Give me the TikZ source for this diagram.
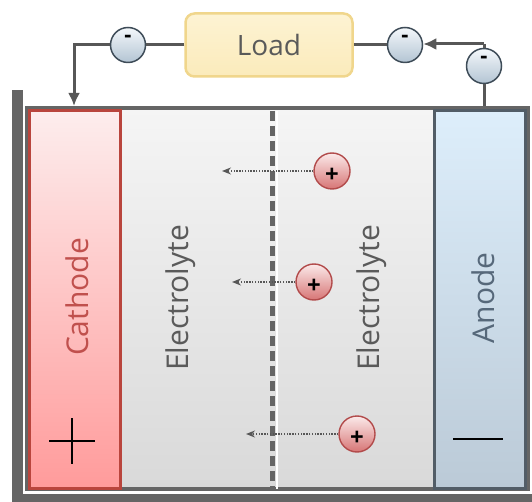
\documentclass[tikz,border=0pt]{standalone}
\usepackage{fontspec}
\setmainfont{Open Sans}
\usetikzlibrary{arrows.meta}
\definecolor{framegray}{HTML}{656565}
\definecolor{wiregray}{HTML}{575757}
\definecolor{cathborder}{HTML}{B9453D}
\definecolor{cathtop}{HTML}{FDEDED}
\definecolor{cathbot}{HTML}{FF9B9B}
\definecolor{cathtxt}{HTML}{C0504D}
\definecolor{eltop}{HTML}{F5F5F5}
\definecolor{elbot}{HTML}{D9D9D9}
\definecolor{eltxt}{HTML}{5A5A5A}
\definecolor{antop}{HTML}{DDEEFB}
\definecolor{anbot}{HTML}{BBCAD7}
\definecolor{anborder}{HTML}{525D67}
\definecolor{antxt}{HTML}{56687A}
\definecolor{loadfill}{HTML}{FDF3D3}
\definecolor{loadbot}{HTML}{FBEBBB}
\definecolor{loadborder}{HTML}{F0D68C}
\definecolor{loadtxt}{HTML}{5A5A5A}
\definecolor{etop}{HTML}{F4F8FB}
\definecolor{ebot}{HTML}{B3C4D3}
\definecolor{eborder}{HTML}{3E4C58}
\definecolor{itop}{HTML}{FBEAEA}
\definecolor{ibot}{HTML}{D77575}
\definecolor{iborder}{HTML}{B24B4B}
\tikzset{
  wire/.style={draw=wiregray, line width=3pt},
  electron/.style={circle, draw=eborder, line width=1.5pt, top color=etop, bottom color=ebot, minimum size=35pt, inner sep=0pt},
  ion/.style={circle, draw=iborder, line width=1.4pt, top color=itop, bottom color=ibot, minimum size=36pt, inner sep=0pt},
  esign/.style={font=\bfseries\fontsize{22}{22}\selectfont, inner sep=0pt, text=black},
  isign/.style={font=\bfseries\fontsize{24}{24}\selectfont, inner sep=0pt, text=black},
  iarrow/.style={draw=wiregray, line width=1.6pt, dash pattern=on 1.4pt off 1.4pt, -{Stealth[length=9pt,width=7pt]}},
  vtext/.style={rotate=90, font=\fontsize{30}{34}\selectfont, inner sep=0pt},
}
\begin{document}
\begin{tikzpicture}[x=1pt,y=-1pt]
\useasboundingbox (0,0) rectangle (532,502);
% outer L frame
\fill[framegray] (12,90) rectangle (23,502);
\fill[framegray] (12,494) rectangle (532,502);
% inner box
\draw[draw=framegray, line width=4.5pt, top color=eltop, bottom color=elbot] (27,108) rectangle (528,489);
% cathode and anode
\draw[draw=cathborder, line width=3pt, top color=cathtop, bottom color=cathbot] (29.5,111) rectangle (120,488);
\draw[draw=anborder, line width=3pt, top color=antop, bottom color=anbot] (434,111) rectangle (525.5,488);
% separator
\draw[white, line width=2pt] (277,111) -- (277,489);
\draw[framegray, line width=4.5pt, dash pattern=on 10pt off 5pt] (272.5,111) -- (272.5,489);
% labels
\node[vtext, text=cathtxt] (cath) at (77,297) {Cathode};
\node[vtext, text=eltxt] (el1) at (181,298) {Electrolyte};
\node[vtext, text=eltxt] (el2) at (372,298) {Electrolyte};
\node[vtext, text=antxt] (an) at (483,298) {Anode};
% plus and minus of electrodes
\draw[black, line width=1.4pt] (49,441) -- (95,441) (72,418) -- (72,464);
\draw[black, line width=1.4pt] (453,439) -- (503,439);
% ions
\node[ion] (i1) at (332,171) {};
\node[ion] (i2) at (314,282) {};
\node[ion] (i3) at (357,434) {};
\node[isign] (p1) at ([yshift=-4pt]i1.center) {+};
\node[isign] (p2) at ([yshift=-4pt]i2.center) {+};
\node[isign] (p3) at ([yshift=-4pt]i3.center) {+};
\coordinate (a1) at (222,171);
\coordinate (a2) at (232,282);
\coordinate (a3) at (246,434);
\draw[iarrow] (i1.west) -- (a1);
\draw[iarrow] (i2.west) -- (a2);
\draw[iarrow] (i3.west) -- (a3);
% load and circuit
\node[draw=loadborder, line width=2.5pt, rounded corners=9pt, top color=loadfill, bottom color=loadbot, minimum width=167pt, minimum height=63pt, text=loadtxt, font=\fontsize{28}{32}\selectfont] (load) at (269,45) {Load};
\node[electron] (e1) at (128,45) {};
\node[electron] (e2) at (405,45) {};
\node[electron] (e3) at (484,66) {};
\node[esign] (m1) at ([yshift=6pt]e1.center) {-};
\node[esign] (m2) at ([yshift=6pt]e2.center) {-};
\node[esign] (m3) at ([yshift=6pt]e3.center) {-};
\coordinate (lc) at (74,44);
\coordinate (cin) at (74,106);
\coordinate (rc) at (484,44);
\coordinate (aout) at (484,106);
\draw[wire] (load.west) -- (e1.east);
\draw[wire, -{Latex[length=13pt,width=12pt]}] (e1.west) -- (e1.west -| lc) -- (cin);
\draw[wire] (load.east) -- (e2.west);
\draw[wire] (aout) -- (e3.south);
\draw[wire] (e3.north) -- (rc);
\draw[wire, -{Latex[length=13pt,width=12pt]}] (rc) -- (rc -| e2.east);
\end{tikzpicture}
\end{document}
